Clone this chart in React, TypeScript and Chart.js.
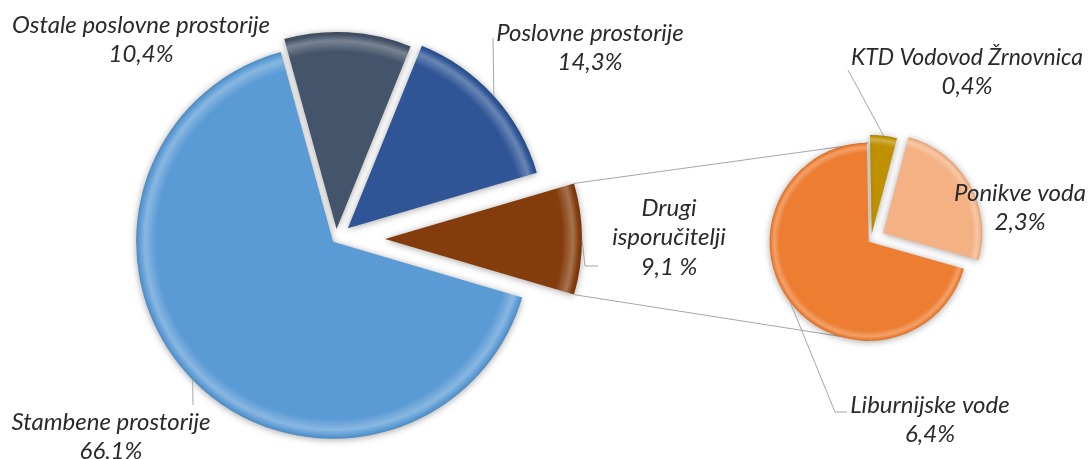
import React, { useEffect, useRef } from 'react';
import { Chart, registerables } from 'chart.js';

Chart.register(...registerables);

// ---- data ----
const mainCategories: string[][] = [
  ['Drugi', 'isporučitelji'],
  ['Stambene prostorije'],
  ['Ostale poslovne prostorije'],
  ['Poslovne prostorije'],
];
const mainValues = [9.1, 66.1, 10.4, 14.3];
const mainPctSuffix = [' %', '%', '%', '%'];

const subCategories: string[][] = [
  ['KTD Vodovod Žrnovnica'],
  ['Ponikve voda'],
  ['Liburnijske vode'],
];
const subValues = [0.4, 2.3, 6.4];
const subPctSuffix = ['%', '%', '%'];

// ---- styles / layout ----
const mainColors = ['#843C0C', '#5B9BD5', '#44546A', '#2F5597'];
const subColors = ['#BF9000', '#F4B183', '#ED7D31'];
const mainExplode = [49, 4, 10, 16];
const subExplode = [6, 14, 3];

const W = 1089;
const H = 459;
const MAIN_CENTER = [336, 239];
const MAIN_RADIUS = 197;
const SUB_CENTER = [871, 240];
const SUB_RADIUS = 99;
const SUB_ROTATION = -1;

const LABEL_FONT = 'italic 24px Lato';
const LABEL_COLOR = '#2a2a2a';
const LEADER_COLOR = '#A6A6A6';
const LINE_H = 29.5;

const mainLabelX = [669, 111, 141, 590];
const mainLabelY = [208, 422, 25, 33];
const mainLabelMaxW = [0, 0, 0, 0];
const mainLeaders: number[][][] = [
  [[585, 266], [598, 266]],
  [[193, 405]],
  [],
  [[493, 38]],
];
const subLabelX = [967, 1020, 930];
const subLabelY = [57, 193, 405];
const subLabelMaxW = [232, 0, 0];
const subLeaders: number[][][] = [
  [[848, 70]],
  [],
  [[835, 412], [847, 412]],
];

function fmtPct(v: number, suffix: string) {
  return v.toFixed(1).replace('.', ',') + suffix;
}

function mix(hex: string, target: number, amt: number) {
  const n = parseInt(hex.slice(1), 16);
  const r = (n >> 16) & 255, g = (n >> 8) & 255, b = n & 255;
  const f = (c: number) => Math.round(c + (target - c) * amt);
  return `rgb(${f(r)},${f(g)},${f(b)})`;
}

function explodeBevelPlugin(explode: number[], colors: string[]) {
  return {
    id: 'explodeBevel',
    afterDatasetsUpdate(chart: any) {
      const meta = chart.getDatasetMeta(0);
      const ctx = chart.ctx;
      meta.data.forEach((el: any, i: number) => {
        const half = (el.startAngle + el.endAngle) / 2;
        el.x = el.x + Math.cos(half) * explode[i];
        el.y = el.y + Math.sin(half) * explode[i];
        const R = el.outerRadius;
        const base = colors[i];
        const g = ctx.createRadialGradient(el.x, el.y, 0, el.x, el.y, R);
        g.addColorStop(0, base);
        g.addColorStop(0.9, base);
        g.addColorStop(0.955, mix(base, 255, 0.28));
        g.addColorStop(0.985, base);
        g.addColorStop(1, mix(base, 0, 0.12));
        el.options = { ...el.options, backgroundColor: g };
      });
    },
    beforeDatasetsDraw(chart: any) {
      const ctx = chart.ctx;
      ctx.save();
      ctx.shadowColor = 'rgba(0,0,0,0.35)';
      ctx.shadowBlur = 7;
      ctx.shadowOffsetX = 0;
      ctx.shadowOffsetY = 1;
    },
    afterDatasetsDraw(chart: any) {
      chart.ctx.restore();
    },
  };
}

function labelsPlugin(
  cats: string[][],
  values: number[],
  suffix: string[],
  lx: number[],
  ly: number[],
  maxW: number[],
  leaders: number[][][]
) {
  return {
    id: 'customLabels',
    afterDraw(chart: any) {
      const ctx = chart.ctx;
      const meta = chart.getDatasetMeta(0);
      ctx.save();
      ctx.strokeStyle = LEADER_COLOR;
      ctx.lineWidth = 1;
      meta.data.forEach((el: any, i: number) => {
        const pts = leaders[i];
        if (pts.length) {
          const half = (el.startAngle + el.endAngle) / 2;
          const sx = el.x + Math.cos(half) * el.outerRadius;
          const sy = el.y + Math.sin(half) * el.outerRadius;
          ctx.beginPath();
          ctx.moveTo(sx, sy);
          pts.forEach((p) => ctx.lineTo(p[0], p[1]));
          ctx.stroke();
        }
      });
      ctx.font = LABEL_FONT;
      ctx.fillStyle = LABEL_COLOR;
      ctx.textAlign = 'center';
      ctx.textBaseline = 'middle';
      cats.forEach((c, i) => {
        const lines = [...c, fmtPct(values[i], suffix[i])];
        lines.forEach((t, k) => {
          if (maxW[i]) ctx.fillText(t, lx[i], ly[i] + k * LINE_H, maxW[i]);
          else ctx.fillText(t, lx[i], ly[i] + k * LINE_H);
        });
      });
      ctx.restore();
    },
  };
}

function connectorPlugin(getMain: () => any) {
  return {
    id: 'connectors',
    beforeDatasetsDraw(chart: any) {
      const main = getMain();
      if (!main) return;
      const drugi = main.getDatasetMeta(0).data[0] as any;
      const subMeta = chart.getDatasetMeta(0);
      const lib = subMeta.data[subMeta.data.length - 1] as any;
      const R = drugi.outerRadius;
      const p1 = [drugi.x + Math.cos(drugi.startAngle) * R, drugi.y + Math.sin(drugi.startAngle) * R];
      const p2 = [drugi.x + Math.cos(drugi.endAngle) * R, drugi.y + Math.sin(drugi.endAngle) * R];
      const top = [lib.x, lib.y - lib.outerRadius];
      const bot = [lib.x, lib.y + lib.outerRadius];
      const ctx = chart.ctx;
      ctx.save();
      ctx.strokeStyle = LEADER_COLOR;
      ctx.lineWidth = 1;
      ctx.beginPath();
      ctx.moveTo(p1[0], p1[1]);
      ctx.lineTo(top[0], top[1]);
      ctx.moveTo(p2[0], p2[1]);
      ctx.lineTo(bot[0], bot[1]);
      ctx.stroke();
      ctx.restore();
    },
  };
}

function paddingFor(center: number[], half: number) {
  return {
    left: center[0] - half,
    right: W - (center[0] + half),
    top: center[1] - half,
    bottom: H - (center[1] + half),
  };
}

export default function App() {
  const mainRef = useRef<HTMLCanvasElement>(null);
  const subRef = useRef<HTMLCanvasElement>(null);

  useEffect(() => {
    document.body.style.margin = '0';
    const sum = mainValues.reduce((a, b) => a + b, 0);
    const mainRotation = 90 - (mainValues[0] / sum) * 180;

    const common = {
      responsive: false,
      animation: false as const,
      events: [] as any[],
      plugins: { legend: { display: false }, tooltip: { enabled: false } },
    };

    const main = new Chart(mainRef.current!, {
      type: 'pie',
      data: {
        labels: mainCategories,
        datasets: [
          {
            data: mainValues,
            backgroundColor: mainColors,
            borderWidth: 0,
          },
        ],
      },
      options: {
        ...common,
        rotation: mainRotation,
        radius: MAIN_RADIUS,
        layout: { padding: paddingFor(MAIN_CENTER, 205) },
      } as any,
      plugins: [
        explodeBevelPlugin(mainExplode, mainColors),
        labelsPlugin(mainCategories, mainValues, mainPctSuffix, mainLabelX, mainLabelY, mainLabelMaxW, mainLeaders),
      ],
    });

    const sub = new Chart(subRef.current!, {
      type: 'pie',
      data: {
        labels: subCategories,
        datasets: [
          {
            data: subValues,
            backgroundColor: subColors,
            borderWidth: 0,
          },
        ],
      },
      options: {
        ...common,
        rotation: SUB_ROTATION,
        radius: SUB_RADIUS,
        layout: { padding: paddingFor(SUB_CENTER, 108) },
      } as any,
      plugins: [
        connectorPlugin(() => main),
        explodeBevelPlugin(subExplode, subColors),
        labelsPlugin(subCategories, subValues, subPctSuffix, subLabelX, subLabelY, subLabelMaxW, subLeaders),
      ],
    });

    return () => {
      sub.destroy();
      main.destroy();
    };
  }, []);

  const cs: React.CSSProperties = { position: 'absolute', left: 0, top: 0 };
  return (
    <div style={{ position: 'fixed', left: 0, top: 0, width: W, height: H, background: '#fff', overflow: 'hidden' }}>
      <canvas ref={mainRef} width={W} height={H} style={cs} />
      <canvas ref={subRef} width={W} height={H} style={cs} />
    </div>
  );
}
